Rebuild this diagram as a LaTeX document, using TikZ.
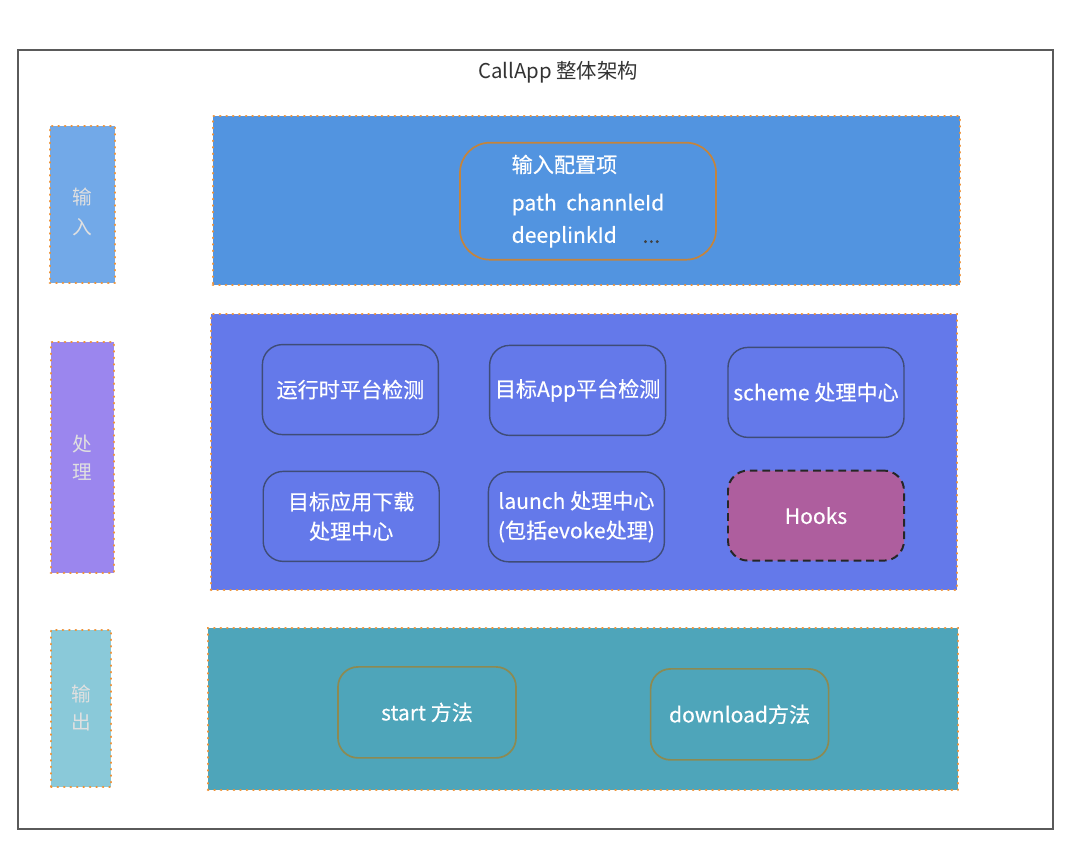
\documentclass[tikz,border=0pt]{standalone}
\usepackage{fontspec}
\setmainfont{Noto Sans CJK SC}
\newfontfamily\boxfont{Noto Sans CJK SC}[FakeBold=0.35]
\usepackage{tikz}
\definecolor{frameline}{HTML}{5A5A5A}
\definecolor{dotline}{HTML}{EE9236}
\definecolor{inblue}{HTML}{5294E0}
\definecolor{inlight}{HTML}{72A9E8}
\definecolor{procblue}{HTML}{6479EA}
\definecolor{proclight}{HTML}{9B86EE}
\definecolor{outteal}{HTML}{4EA5BA}
\definecolor{outlight}{HTML}{8AC9D9}
\definecolor{cfgline}{HTML}{C4843C}
\definecolor{procline}{HTML}{3F4C77}
\definecolor{outline}{HTML}{8C8A52}
\definecolor{hookfill}{HTML}{AE5E9E}
\tikzstyle{layer}=[draw=dotline, line width=1.8pt, line cap=round, dash pattern=on 0.2pt off 4.4pt, inner sep=0pt]
\tikzstyle{side}=[layer, text=white!88!black, font=\fontsize{14}{20}\selectfont, align=center]
\tikzstyle{box}=[rounded corners=0.5cm, line width=1pt, text=white, font=\fontsize{15}{21}\boxfont, align=center, minimum width=4.4cm, minimum height=2.25cm, inner sep=0pt]
\tikzstyle{pbox}=[box, draw=procline]
\tikzstyle{obox}=[box, draw=outline, line width=1.2pt]
\tikzstyle{hbox}=[box, draw=black!85, fill=hookfill, line width=1.4pt, dash pattern=on 5.5pt off 3.5pt]

\begin{document}
\begin{tikzpicture}
        \useasboundingbox (0, 0) rectangle (27, 21.3);
        \node[draw=frameline, line width=1pt, minimum width=25.875cm, minimum height=19.475cm] (frame) at (13.39, 10.31) {};
        \node[font=\fontsize{14.5}{20}\selectfont, text=black!80] (title) at (13.95, 19.5) {CallApp 整体架构};
        \node[side, fill=inlight, minimum width=1.625cm, minimum height=3.925cm]   (Lin)   at (2.06, 16.19) {\raisebox{-21.5pt}[0pt][0pt]{\shortstack{输\\[6pt]入}}};
        \node[side, fill=proclight, minimum width=1.575cm, minimum height=5.775cm] (Lproc) at (2.06, 9.86) {处\\理};
        \node[side, fill=outlight, minimum width=1.5cm, minimum height=3.925cm]    (Lout)  at (2.03, 3.59) {输\\出};
        \node[layer, fill=inblue, minimum width=18.675cm, minimum height=4.225cm]  (Bin)   at (14.66, 16.29) {};
        \node[layer, fill=procblue, minimum width=18.65cm, minimum height=6.9cm]   (Bproc) at (14.6, 10.0) {};
        \node[layer, fill=outteal, minimum width=18.75cm, minimum height=4.05cm]   (Bout)  at (14.575, 3.575) {};
        \node[box, draw=cfgline, line width=1.2pt, rounded corners=0.75cm, minimum width=6.4cm, minimum height=2.925cm, align=left] (Cfg) at (14.7, 16.27)
            {输入配置项\\[6pt]path\ \ channleId\\[2pt]deeplinkId\quad\ {\color{black!75}...}};
        \node[pbox] (P1) at (8.76, 11.56)  {运行时平台检测};
        \node[pbox] (P2) at (14.44, 11.54) {目标App平台检测};
        \node[pbox] (P3) at (20.4, 11.49)  {scheme 处理中心};
        \node[pbox] (P4) at (8.78, 8.39)   {目标应用下载\\处理中心};
        \node[pbox] (P5) at (14.41, 8.38)  {launch 处理中心\\(包括evoke处理)};
        \node[hbox] (P6) at (20.4, 8.41)   {Hooks};
        \node[obox, minimum width=4.45cm, minimum height=2.275cm] (Ostart) at (10.675, 3.49) {start 方法};
        \node[obox, minimum width=4.45cm, minimum height=2.275cm] (Odown)  at (18.49, 3.44)  {download方法};
    \end{tikzpicture}
\end{document}
